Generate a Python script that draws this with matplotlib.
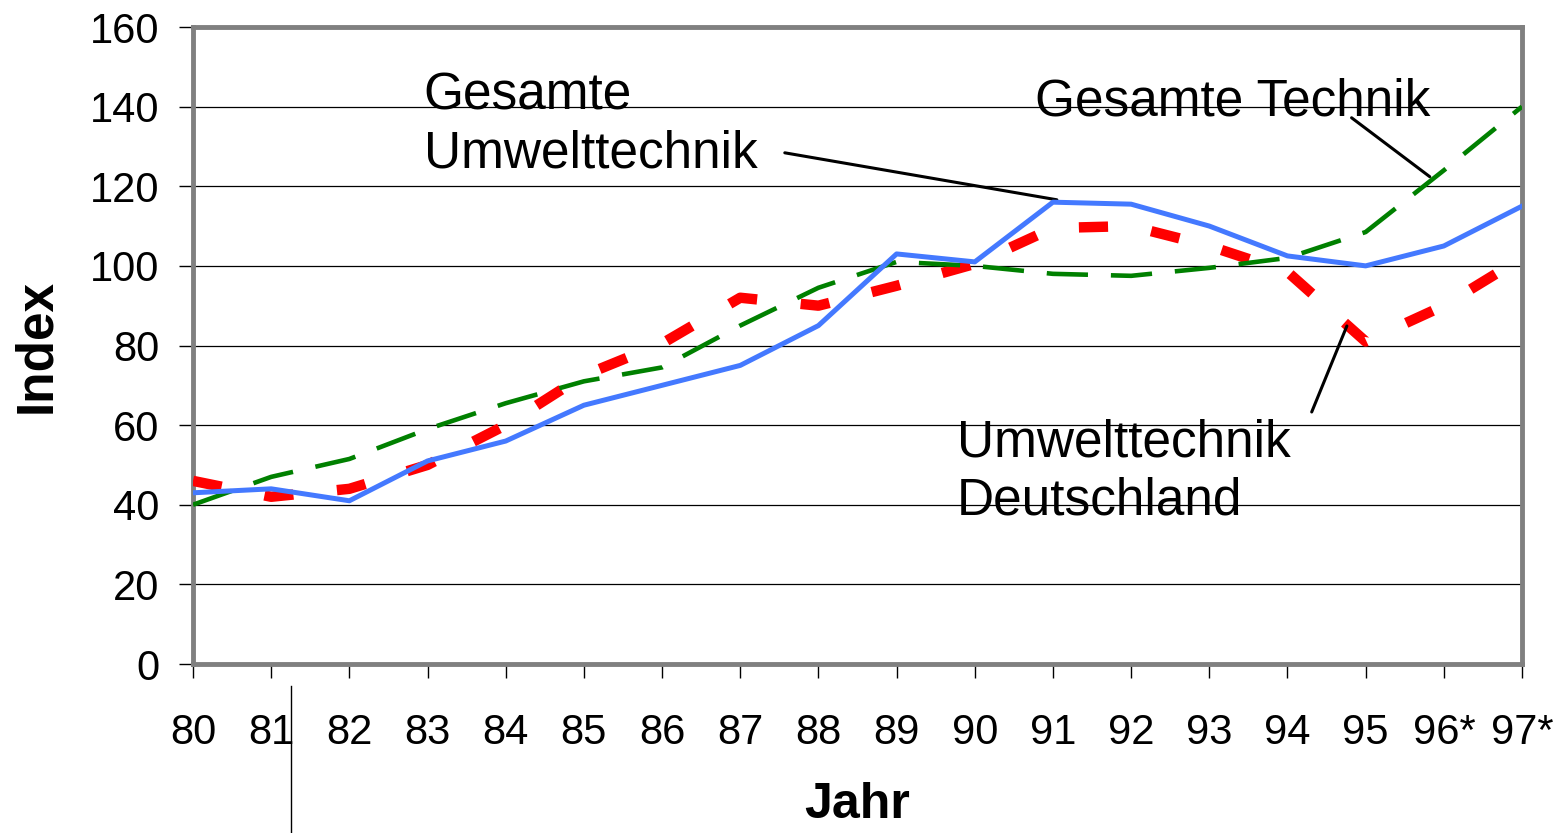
import matplotlib.pyplot as plt
from matplotlib.lines import Line2D

# data
years = ['80', '81', '82', '83', '84', '85', '86', '87', '88',
         '89', '90', '91', '92', '93', '94', '95', '96*', '97*']
umwelt_gesamt = [43, 44, 41, 51, 56, 65, 70, 75, 85,
                 103, 101, 116, 115.5, 110, 102.5, 100, 105, 115]
technik_gesamt = [40, 47, 51.5, 59, 65.5, 71, 74.5, 85, 94.5,
                  101, 100, 98, 97.5, 99.5, 102, 108.5, 124, 140]
umwelt_de = [46, 42, 44, 50, 60, 72.5, 80.5, 92, 90,
             95, 100.5, 109.5, 110, 105, 98.5, 81, 90, 102]
yticks = [0, 20, 40, 60, 80, 100, 120, 140, 160]

plt.rcParams['font.family'] = ['Liberation Sans', 'DejaVu Sans']

fig = plt.figure(figsize=(15.58, 8.33), dpi=100, facecolor='white')
ax = fig.add_axes([193/1558, 1 - 664/833, (1522-193)/1558, (664-27)/833])

x = list(range(len(years)))
ax.plot(x, umwelt_de, color='#ff0000', lw=7.5, dashes=(2.8, 4.2), zorder=3)
ax.plot(x, technik_gesamt, color='#008000', lw=3.3, dashes=(9, 5), zorder=4)
ax.plot(x, umwelt_gesamt, color='#4479ff', lw=3.6, zorder=5)

ax.set_xlim(0, len(years) - 1)
ax.set_ylim(0, 160)
ax.set_xticks(x)
ax.set_xticklabels(years)
ax.set_yticks(yticks)
ax.grid(axis='y', color='black', lw=0.9)
ax.set_axisbelow(True)
for s in ax.spines.values():
    s.set_color('#808080')
    s.set_linewidth(3.5)
ax.tick_params(axis='both', direction='out', length=10, width=1, color='black',
               labelsize=30)
ax.tick_params(axis='x', pad=25)
ax.tick_params(axis='y', pad=14)

ax.set_xlabel('Jahr', fontsize=36, fontweight='bold')
ax.set_ylabel('Index', fontsize=37, fontweight='bold')
ax.xaxis.set_label_coords(0.5, -0.186)
ax.yaxis.set_label_coords(-0.099, 0.5)

# labels with leader lines
lead = dict(arrowstyle='-', color='black', lw=2.2, shrinkA=0, shrinkB=0)
ax.text(2.95, 135.4, 'Gesamte\nUmwelttechnik', fontsize=37, va='center',
        ha='left', linespacing=1.25)
ax.annotate('', xy=(11.05, 116.6), xytext=(7.57, 128.4), arrowprops=lead)
ax.text(10.77, 141.2, 'Gesamte Technik', fontsize=37, va='center', ha='left')
ax.annotate('', xy=(15.82, 122.4), xytext=(14.82, 137.2), arrowprops=lead)
ax.text(9.77, 48.2, 'Umwelttechnik\nDeutschland', fontsize=37, va='center',
        ha='left', linespacing=1.25)
ax.annotate('', xy=(14.76, 84.9), xytext=(14.31, 63.3), arrowprops=lead)

# stray vertical line below the axis
fig.add_artist(Line2D([291/1558, 291/1558], [0, 1 - 686/833],
                      color='black', lw=1))

fig.savefig('out.png', dpi=100)
